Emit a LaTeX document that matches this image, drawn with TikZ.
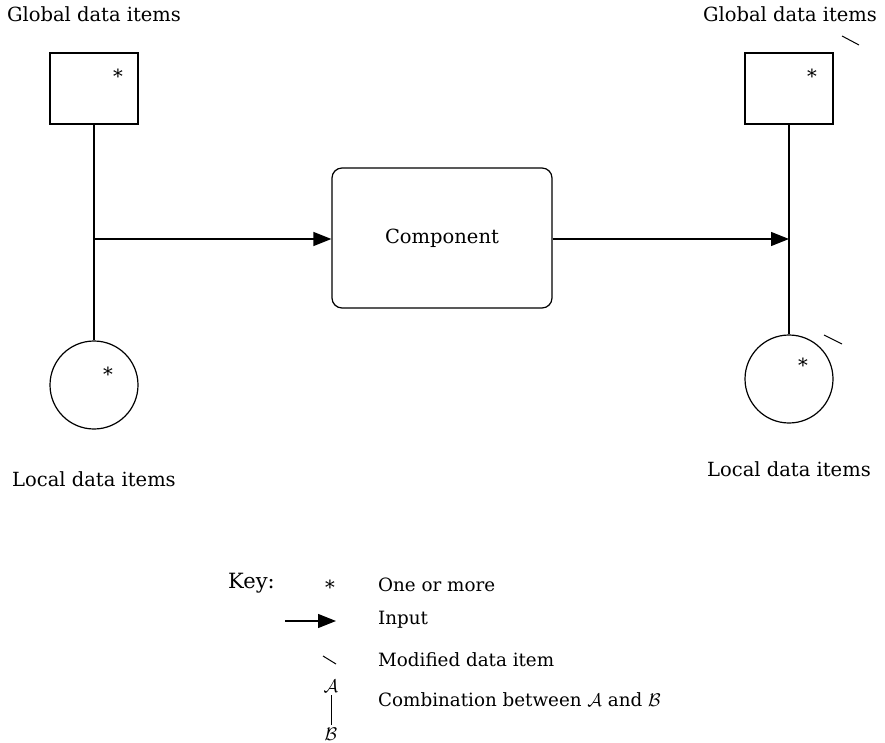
\RequirePackage{fix-cm}
\documentclass[tikz,border=0pt]{standalone}
\usepackage{fontspec}
\setmainfont{DejaVu Serif}
\usetikzlibrary{arrows.meta,positioning}
\tikzset{
  store/.style={draw, line width=1.2pt, minimum width=88pt, minimum height=71pt},
  local/.style={draw, circle, line width=1.2pt, minimum size=88pt},
  label/.style={font=\fontsize{19.5}{22}\selectfont, inner sep=0pt},
  keytext/.style={font=\fontsize{18.3}{21}\selectfont, anchor=west, inner sep=0pt},
  flow/.style={line width=1.2pt, -{Triangle[length=18pt,width=14pt]}},
  modmark/.style={line width=1pt},
}
\begin{document}
\begin{tikzpicture}[x=1pt,y=-1pt]
	\useasboundingbox (0,0) rectangle (885,743);
	% left side
	\node [label] (gtL) at (94,14) {Global data items};
	\node [store] (gL) at (94,88.5) {};
	\node [label] at (118,76) {*};
	\node [local] (lL) at (94,385) {};
	\node [label] at (108,374) {*};
	\node [label] (ltL) at (94,479) {Local data items};
	\coordinate (jL) at (94,239);
	\draw [line width=1.2pt] (gL.south) -- (lL.north);
	% component
	\node [draw, line width=1.2pt, rounded corners=10pt, minimum width=220pt, minimum height=140pt, label] (comp) at (442,238) {Component};
	\draw [flow] (jL) -- (jL -| comp.west);
	% right side
	\node [label] (gtR) at (790,14) {Global data items};
	\node [store] (gR) at (789,88.5) {};
	\node [label] at (812,76) {*};
	\node [local] (lR) at (789,379) {};
	\node [label] at (803,365) {*};
	\node [label] (ltR) at (789,469) {Local data items};
	\coordinate (jR) at (789,239);
	\draw [line width=1.2pt] (gR.south) -- (lR.north);
	\draw [flow] (jR -| comp.east) -- (jR);
	\draw [modmark] (842,36) -- (859,45);
	\draw [modmark] (824,335) -- (842,344);
	% key
	\node [font=\fontsize{21}{24}\selectfont, anchor=west, inner sep=0pt] (key) at (228,583) {Key:};
	\node [label] (kstar) at (330,587) {*};
	\node [keytext] (k1) at (378,585) {One or more};
	\coordinate (ka) at (285,621);
	\coordinate (kb) at (336,621);
	\draw [flow] (ka) -- (kb);
	\node [keytext] (k2) at (378,620) {Input};
	\draw [modmark] (323,656) -- (336,664);
	\node [keytext] (k3) at (378,660) {Modified data item};
	\node [keytext, anchor=center] (kA) at (331,686) {$\mathcal{A}$};
	\node [keytext, anchor=center] (kB) at (331,734) {$\mathcal{B}$};
	\draw [line width=1pt] ([yshift=-3pt]kA.south) -- ([yshift=3pt]kB.north);
	\node [keytext] (k4) at (378,700) {Combination between $\mathcal{A}$ and $\mathcal{B}$};
\end{tikzpicture}
\end{document}
